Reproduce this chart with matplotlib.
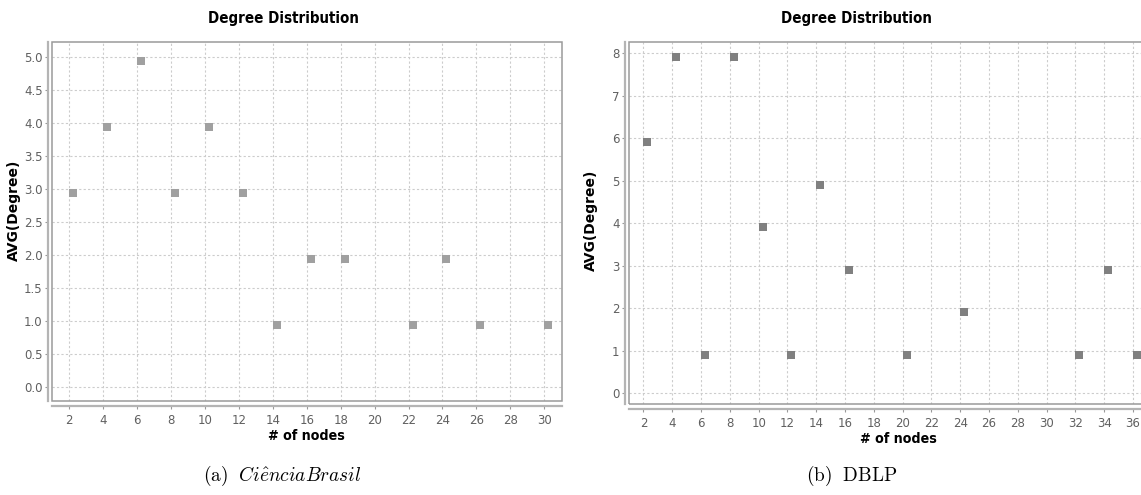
import matplotlib
matplotlib.use('Agg')
import matplotlib.pyplot as plt
from matplotlib import font_manager
from matplotlib.path import Path
from matplotlib.patches import Rectangle

plt.rcParams['mathtext.fontset'] = 'cm'

# data
cb_nodes = [2, 4, 6, 8, 10, 12, 14, 16, 18, 22, 24, 26, 30]
cb_degree = [3, 4, 5, 3, 4, 3, 1, 2, 2, 1, 2, 1, 1]
dblp_nodes = [2, 4, 6, 8, 10, 12, 14, 16, 20, 24, 32, 34, 36]
dblp_degree = [6, 8, 1, 8, 4, 1, 5, 3, 1, 2, 1, 3, 1]

cb_yticks = [0.0, 0.5, 1.0, 1.5, 2.0, 2.5, 3.0, 3.5, 4.0, 4.5, 5.0]
cb_xticks = list(range(2, 31, 2))
dblp_yticks = list(range(0, 9))
dblp_xticks = list(range(2, 37, 2))

title = 'Degree Distribution'
xlab = '# of nodes'
ylab = 'AVG(Degree)'

# the reference is squeezed sideways, so horizontal texts look narrow
has_cond = any(f.name == 'DejaVu Sans' and f.stretch == 'condensed'
               for f in font_manager.fontManager.ttflist)
shrink = 1.0 if has_cond else 0.9

# square whose top-left corner sits on the data point (like JFreeChart)
corner_square = Path([(0, 0), (1, 0), (1, -1), (0, -1), (0, 0)],
                     [Path.MOVETO, Path.LINETO, Path.LINETO, Path.LINETO, Path.CLOSEPOLY])

W, H = 1141, 495
fig = plt.figure(figsize=(W / 100, H / 100), dpi=100)


def px_axes(l, r, t, b):
    return fig.add_axes([l / W, 1 - b / H, (r - l) / W, (b - t) / H])


def style(ax, xt, yt, fmt, offl, offb, frame_w=1.0):
    ax.set_xticks(xt)
    ax.set_yticks(yt)
    ax.set_yticklabels([fmt % v for v in yt])
    ax.grid(True, color='#cccccc', linestyle=(0, (2, 2)), linewidth=0.8)
    ax.set_axisbelow(True)
    for s in ['top', 'right']:
        ax.spines[s].set_visible(False)
    ax.spines['left'].set_position(('outward', offl))
    ax.spines['bottom'].set_position(('outward', offb))
    for s in ['left', 'bottom']:
        ax.spines[s].set_color('#b4b4b4')
        ax.spines[s].set_linewidth(1.6)
    ax.add_patch(Rectangle((0, 0), frame_w, 1, transform=ax.transAxes, fill=False,
                           ec='#9a9a9a', lw=1.1, clip_on=False, zorder=5))
    ax.tick_params(direction='out', length=2, width=0.8, color='#999999',
                   labelcolor='#606060', labelsize=8.5, pad=2)
    ax.tick_params(axis='x', pad=4)


def labels(ax, ylx, yly, xlx, xly):
    ax.set_ylabel(ylab, fontsize=10, fontweight='bold', family='DejaVu Sans')
    ax.yaxis.set_label_coords(ylx, yly)
    ax.set_xlabel(xlab, fontsize=10.2 * shrink, fontweight='bold',
                  family='DejaVu Sans', fontstretch='condensed')
    ax.xaxis.set_label_coords(xlx, xly)


ax1 = px_axes(51.7, 561.7, 41.7, 401)
ax1.plot(cb_nodes, cb_degree, linestyle='none', marker=corner_square,
         markersize=12.2, markeredgewidth=0, color='#a0a0a0', zorder=3, clip_on=False)
ax1.set_xlim(0.96, 31.03)
ax1.set_ylim(-0.207, 5.227)
style(ax1, cb_xticks, cb_yticks, '%.1f', 2.5, 3.6)
labels(ax1, (21 - 51.7) / 510, 0.532, 0.5, -(429 - 401) / 359.3)

ax2 = px_axes(629, 1141, 41.7, 404.3)
ax2.plot(dblp_nodes, dblp_degree, linestyle='none', marker=corner_square,
         markersize=12.2, markeredgewidth=0, color='#808080', zorder=3, clip_on=False)
ax2.set_xlim(1.0, 36.55)
ax2.set_ylim(-0.259, 8.273)
style(ax2, dblp_xticks, dblp_yticks, '%d', 2.9, 3.4, frame_w=1.02)
labels(ax2, (598 - 629) / 512, 0.508, (898 - 629) / 512, -(432 - 404.3) / 362.6)

for cx in (283, 856):
    fig.text(cx / W, 1 - 18 / H, title, ha='center', va='center',
             fontsize=10.8 * shrink, fontweight='bold', family='DejaVu Sans',
             fontstretch='condensed')

fig.text(282 / W, 1 - 476 / H, r'$\mathrm{(a)}\ \ Ci\hat{e}nciaBrasil$',
         ha='center', va='center', fontsize=13.9)
fig.text(852 / W, 1 - 476 / H, r'$\mathrm{(b)\ \ DBLP}$',
         ha='center', va='center', fontsize=13.9)

fig.savefig('out.png', dpi=100)
